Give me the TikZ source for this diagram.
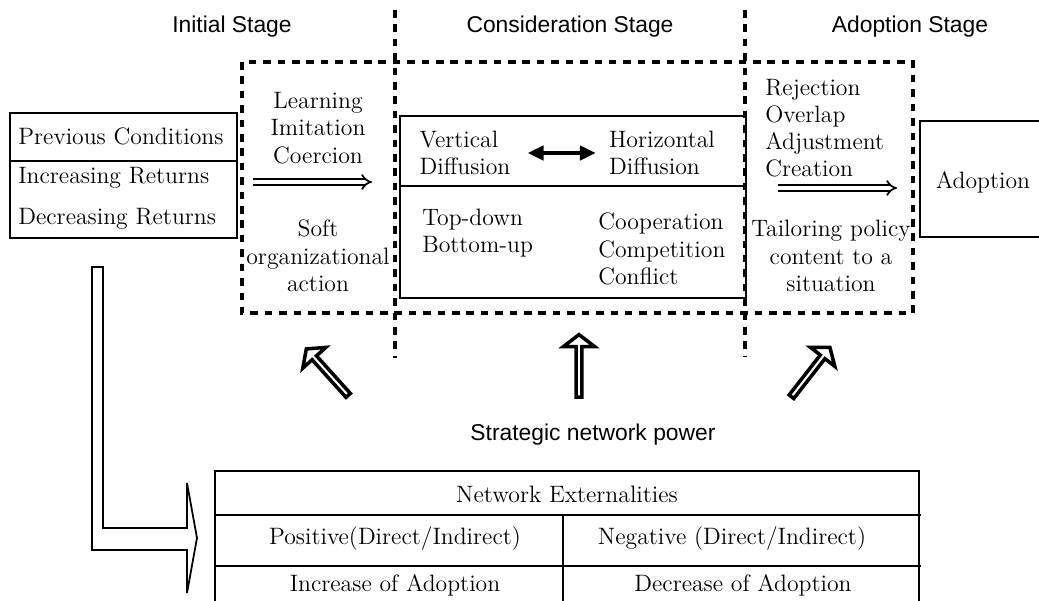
\documentclass[tikz,border=0pt]{standalone}
\usepackage{fontspec}
\setsansfont{Liberation Sans}
\usepackage{tikz}
\usetikzlibrary{arrows.meta, positioning, shapes.arrows}
\tikzset{%
	stage label/.style={
		font=\sffamily\fontsize{13}{15}\selectfont,
		inner sep=0pt
	},
	body text/.style={
		font=\fontsize{13.5}{15.5}\selectfont,
		inner sep=0pt
	},
	stage frame/.style={
		line width=2.4pt,
		dash pattern=on 4.3pt off 3.9pt
	},
	pass arrow/.style={
		double,
		double distance=2pt,
		line width=1pt,
		-{Implies}
	},
	power arrow/.style={
		single arrow,
		draw,
		line width=2pt,
		inner sep=0pt,
		minimum width=0.62cm,
		minimum height=1.25cm,
		single arrow head extend=0.15cm,
		single arrow tip angle=105
	},
}

\begin{document}
\begin{tikzpicture}[x=0.02cm, y=-0.02cm]
			\useasboundingbox (0,0) rectangle (1039,601);
			
			% Stage titles
			\node[stage label] (initial) at (232,27) {Initial Stage};
			\node[stage label] (consider) at (570,27) {Consideration Stage};
			\node[stage label] (adopt) at (910,27) {Adoption Stage};
			
			% Dotted frame and stage dividers
			\draw[stage frame] (242,62) rectangle (913,313);
			\draw[stage frame] (395,10) -- (395,358);
			\draw[stage frame] (745,10) -- (745,356);
			
			% Previous conditions box
			\draw[line width=1pt] (10,113) rectangle (237,238);
			\draw[line width=1pt] (10,161) -- (237,161);
			\node[body text, anchor=west] (prev) at (18,136) {Previous Conditions};
			\node[body text, anchor=west] (incr) at (18,178) {Increasing Returns};
			\node[body text, anchor=west] (decr) at (18,219) {Decreasing Returns};
			
			% Initial stage
			\node[body text, align=center] (learn) at (318,128) {Learning\\Imitation\\Coercion};
			\node[body text, align=center] (soft) at (318,256) {Soft\\organizational\\action};
			\coordinate (initL) at (253,182);
			\coordinate (initR) at (372,182);
			\draw[pass arrow] (initL) -- (initR);
			
			% Consideration box
			\draw[line width=1pt] (400,116) rectangle (746,298);
			\draw[line width=1pt] (400,186) -- (746,186);
			\node[body text, align=left] (vert) at (465,153) {Vertical\\Diffusion};
			\node[body text, align=left] (horz) at (662,153) {Horizontal\\Diffusion};
			\draw[line width=2.6pt, {Triangle[length=9pt,width=8pt]}-{Triangle[length=9pt,width=8pt]}]
				([xshift=0.34cm]vert.east) -- ([xshift=-0.26cm]horz.west);
			\node[body text, align=left, anchor=west] (topdown) at (422,233) {Top-down\\Bottom-up};
			\node[body text, align=left, anchor=west] (coop) at (598,249) {Cooperation\\Competition\\Conflict};
			
			% Adoption stage
			\node[body text, align=left, anchor=west] (reject) at (765,128) {Rejection\\Overlap\\Adjustment\\Creation};
			\node[body text, align=center] (tailor) at (831,256) {Tailoring policy\\content to a\\situation};
			\coordinate (adL) at (778,188);
			\coordinate (adR) at (897,188);
			\draw[pass arrow] (adL) -- (adR);
			
			% Adoption box (runs off the right edge)
			\draw[line width=1pt] (1045,121) -| (920,237) -- (1045,237);
			\node[body text] (adoption) at (983,182) {Adoption};
			
			% Strategic network power
			\node[stage label] (power) at (593,435) {Strategic network power};
			\node[power arrow, rotate=132] (pleft) at (328,373) {};
			\node[power arrow, rotate=90] (pmid) at (579,367) {};
			\node[power arrow, rotate=52] (pright) at (810,373) {};
			
			% Bent arrow to the table
			\draw[line width=1pt] (92,267) -- (103,267) -- (103,528) -- (187,528) -- (187,483)
				-- (197,538) -- (187,593) -- (187,550) -- (92,550) -- cycle;
			
			% Network externalities table
			\draw[line width=1pt] (919,605) |- (215,471) -- (215,605);
			\draw[line width=1pt] (215,515) -- (921,515);
			\draw[line width=1pt] (215,566) -- (921,566);
			\draw[line width=1pt] (563,515) -- (563,605);
			\node[body text] (netext) at (567,494) {Network Externalities};
			\node[body text] (pos) at (395,539) {Positive(Direct/Indirect)};
			\node[body text] (neg) at (732,539) {Negative (Direct/Indirect)};
			\node[body text] (inc) at (395,585) {Increase of Adoption};
			\node[body text] (dec) at (743,585) {Decrease of Adoption};
		\end{tikzpicture}
\end{document}
